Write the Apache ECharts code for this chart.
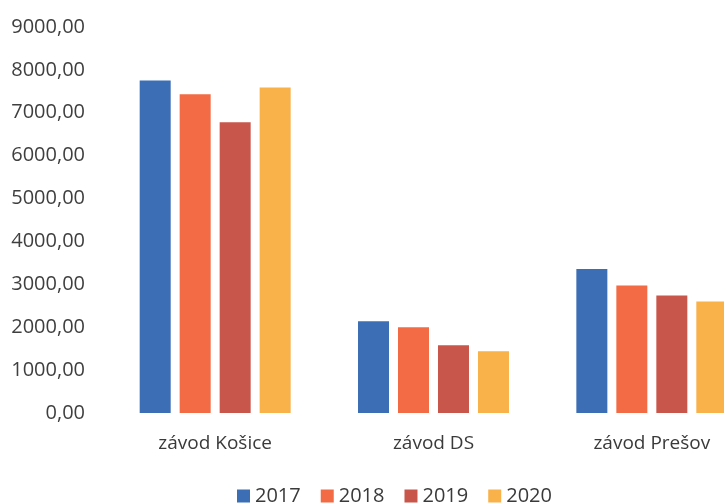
<!DOCTYPE html>
<html>
<head>
<meta charset="utf-8">
<script src="https://cdn.jsdelivr.net/npm/echarts@6/dist/echarts.min.js"></script>
<style>html,body{margin:0;padding:0;background:#fff}#c{width:724px;height:504px}</style>
</head>
<body>
<div id="c"></div>
<script>
const categories = ['závod Košice', 'závod DS', 'závod Prešov'];
const years = ['2017', '2018', '2019', '2020'];
const v2017 = [7750, 2140, 3360];
const v2018 = [7430, 2000, 2970];
const v2019 = [6780, 1580, 2740];
const v2020 = [7590, 1440, 2600];
const colors = ['#3b6eb4', '#f26b45', '#c9564b', '#f9b14a'];
const values = [v2017, v2018, v2019, v2020];

const chart = echarts.init(document.getElementById('c'));
chart.setOption({
  animation: false,
  backgroundColor: '#ffffff',
  textStyle: { fontFamily: 'Open Sans' },
  grid: { left: 106, width: 655, top: 27, height: 386, outerBoundsMode: 'none', containLabel: false },
  legend: {
    top: 481,
    left: 232,
    itemWidth: 13,
    itemHeight: 13,
    itemGap: 20,
    icon: 'rect',
    textStyle: { fontSize: 20, color: '#3a3a3a' },
    data: years
  },
  xAxis: {
    type: 'category',
    data: categories,
    axisLine: { show: false },
    axisTick: { show: false },
    axisLabel: { fontSize: 19, color: '#3a3a3a', margin: 21 }
  },
  yAxis: {
    type: 'value',
    min: 0,
    max: 9000,
    interval: 1000,
    axisLine: { show: false },
    axisTick: { show: false },
    splitLine: { show: false },
    axisLabel: {
      fontSize: 20,
      color: '#3f3f3f',
      margin: 21,
      formatter: v => v.toFixed(2).replace('.', ',')
    }
  },
  series: years.map((y, i) => ({
    name: y,
    type: 'bar',
    data: values[i],
    barWidth: 31,
    barGap: '29%',
    itemStyle: { color: colors[i] }
  }))
});
</script>
</body>
</html>
